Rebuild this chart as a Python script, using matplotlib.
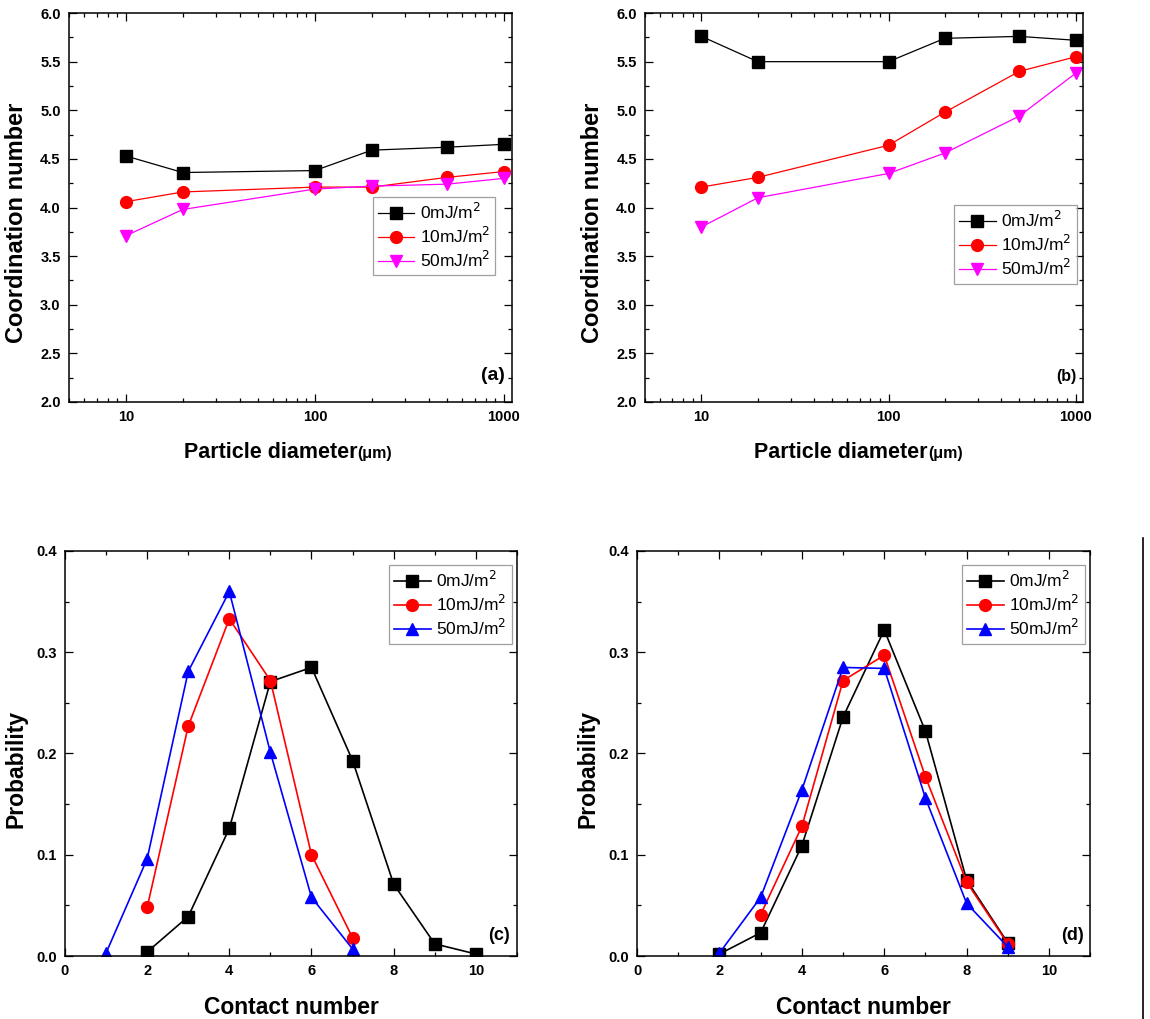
import matplotlib
matplotlib.use('Agg')
import matplotlib.pyplot as plt
from matplotlib.ticker import MultipleLocator, FixedLocator, NullFormatter, LogLocator
from matplotlib.lines import Line2D

plt.rcParams['font.family'] = ['Liberation Sans', 'DejaVu Sans']

# particle diameter panels (a), (b)
diameter = [10, 20, 100, 200, 500, 1000]
coord_a_0 = [4.53, 4.36, 4.38, 4.59, 4.62, 4.65]
coord_a_10 = [4.06, 4.16, 4.21, 4.21, 4.31, 4.37]
coord_a_50 = [3.71, 3.98, 4.19, 4.22, 4.24, 4.30]
coord_b_0 = [5.76, 5.50, 5.50, 5.74, 5.76, 5.72]
coord_b_10 = [4.21, 4.31, 4.64, 4.98, 5.40, 5.55]
coord_b_50 = [3.80, 4.10, 4.35, 4.56, 4.94, 5.38]

# contact number panels (c), (d)
contact_c_0 = [2, 3, 4, 5, 6, 7, 8, 9, 10]
prob_c_0 = [0.004, 0.039, 0.126, 0.271, 0.285, 0.193, 0.071, 0.012, 0.002]
contact_c_10 = [2, 3, 4, 5, 6, 7]
prob_c_10 = [0.048, 0.227, 0.333, 0.272, 0.100, 0.018]
contact_c_50 = [1, 2, 3, 4, 5, 6, 7]
prob_c_50 = [0.003, 0.096, 0.281, 0.360, 0.201, 0.058, 0.007]

contact_d_0 = [2, 3, 4, 5, 6, 7, 8, 9]
prob_d_0 = [0.002, 0.023, 0.109, 0.236, 0.322, 0.222, 0.075, 0.013]
contact_d_10 = [3, 4, 5, 6, 7, 8, 9]
prob_d_10 = [0.041, 0.128, 0.272, 0.297, 0.177, 0.073, 0.012]
contact_d_50 = [2, 3, 4, 5, 6, 7, 8, 9]
prob_d_50 = [0.003, 0.058, 0.164, 0.285, 0.284, 0.156, 0.052, 0.009]

labels = ['0mJ/m$^2$', '10mJ/m$^2$', '50mJ/m$^2$']

fig = plt.figure(figsize=(11.5, 10.19), dpi=100)


def style_axes(ax):
    for s in ax.spines.values():
        s.set_linewidth(1.1)
    ax.tick_params(which='both', direction='in', top=True, right=True, width=0.9)
    ax.tick_params(which='major', length=5.5, labelsize=10.5, pad=6)
    ax.tick_params(which='minor', length=3)
    for t in ax.get_xticklabels() + ax.get_yticklabels():
        t.set_fontweight('bold')


def add_legend(ax, handles, bbox):
    leg = ax.legend(handles=handles, labels=labels, loc='upper left', bbox_to_anchor=bbox,
                    fontsize=12.5, frameon=True, fancybox=False, handlelength=2.1,
                    handletextpad=0.3, borderpad=0.3, labelspacing=0.22, borderaxespad=0)
    leg.get_frame().set_edgecolor('#888888')
    leg.get_frame().set_linewidth(0.9)


def diameter_panel(rect, y0, y10, y50, tag, tag_size, leg_bbox, split_x):
    ax = fig.add_axes(rect)
    h0, = ax.plot(diameter, y0, '-s', color='black', lw=0.9, ms=8)
    h1, = ax.plot(diameter, y10, '-o', color='red', lw=0.9, ms=8.5)
    h2, = ax.plot(diameter, y50, '-v', color='magenta', lw=0.9, ms=9)
    ax.set_xscale('log')
    ax.set_xlim(5, 1100)
    ax.set_ylim(2.0, 6.0)
    ax.xaxis.set_major_locator(FixedLocator([10, 100, 1000]))
    ax.set_xticklabels(['10', '100', '1000'])
    ax.xaxis.set_minor_locator(LogLocator(base=10, subs=range(2, 10)))
    ax.xaxis.set_minor_formatter(NullFormatter())
    ax.yaxis.set_major_locator(MultipleLocator(0.5))
    ax.yaxis.set_minor_locator(MultipleLocator(0.25))
    ax.yaxis.set_major_formatter('{x:.1f}')
    style_axes(ax)
    ax.set_ylabel('Coordination number', fontsize=17, fontweight='bold')
    ax.yaxis.set_label_coords(-0.093, 0.46)
    fig.text(split_x / 1150, 1 - 458 / 1019, 'Particle diameter', ha='right', va='baseline',
             fontsize=15.5, fontweight='bold')
    fig.text(split_x / 1150, 1 - 458 / 1019, '(\u03bcm)', ha='left', va='baseline',
             fontsize=11.5, fontweight='bold')
    ax.text(0.985, 0.045, tag, transform=ax.transAxes, ha='right', va='bottom',
            fontsize=tag_size, fontweight='bold')
    add_legend(ax, [h0, h1, h2], leg_bbox)
    return ax


def contact_panel(rect, xs, ys, tag, leg_bbox):
    ax = fig.add_axes(rect)
    handles = []
    for (x, y), m, c, ms in zip(zip(xs, ys), ['s', 'o', '^'], ['black', 'red', 'blue'], [8, 8.5, 9]):
        h, = ax.plot(x, y, '-', marker=m, color=c, lw=1.2, ms=ms)
        handles.append(h)
    ax.set_xlim(0, 11)
    ax.set_ylim(0, 0.4)
    ax.xaxis.set_major_locator(MultipleLocator(2))
    ax.xaxis.set_minor_locator(MultipleLocator(1))
    ax.yaxis.set_major_locator(MultipleLocator(0.1))
    ax.yaxis.set_minor_locator(MultipleLocator(0.05))
    ax.yaxis.set_major_formatter('{x:.1f}')
    style_axes(ax)
    ax.set_xlabel('Contact number', fontsize=16.5, fontweight='bold', labelpad=13)
    ax.set_ylabel('Probability', fontsize=16.5, fontweight='bold')
    ax.yaxis.set_label_coords(-0.082, 0.463)
    ax.text(0.985, 0.03, tag, transform=ax.transAxes, ha='right', va='bottom',
            fontsize=13, fontweight='bold')
    add_legend(ax, handles, leg_bbox)
    return ax


diameter_panel([0.060, 0.6055, 0.385, 0.3817], coord_a_0, coord_a_10, coord_a_50,
               '(a)', 14, (0.686, 0.528), 357)
diameter_panel([0.561, 0.6055, 0.381, 0.3817], coord_b_0, coord_b_10, coord_b_50,
               '(b)', 11.5, (0.705, 0.506), 928)
contact_panel([0.0565, 0.0618, 0.393, 0.3975],
              [contact_c_0, contact_c_10, contact_c_50], [prob_c_0, prob_c_10, prob_c_50],
              '(c)', (0.717, 0.965))
contact_panel([0.554, 0.0618, 0.394, 0.3975],
              [contact_d_0, contact_d_10, contact_d_50], [prob_d_0, prob_d_10, prob_d_50],
              '(d)', (0.717, 0.965))

# stray border line at the right edge of the lower half
fig.add_artist(Line2D([1143 / 1150, 1143 / 1150], [0, 1 - 538 / 1019], color='black', lw=1.2))

fig.savefig('out.png', dpi=100)
